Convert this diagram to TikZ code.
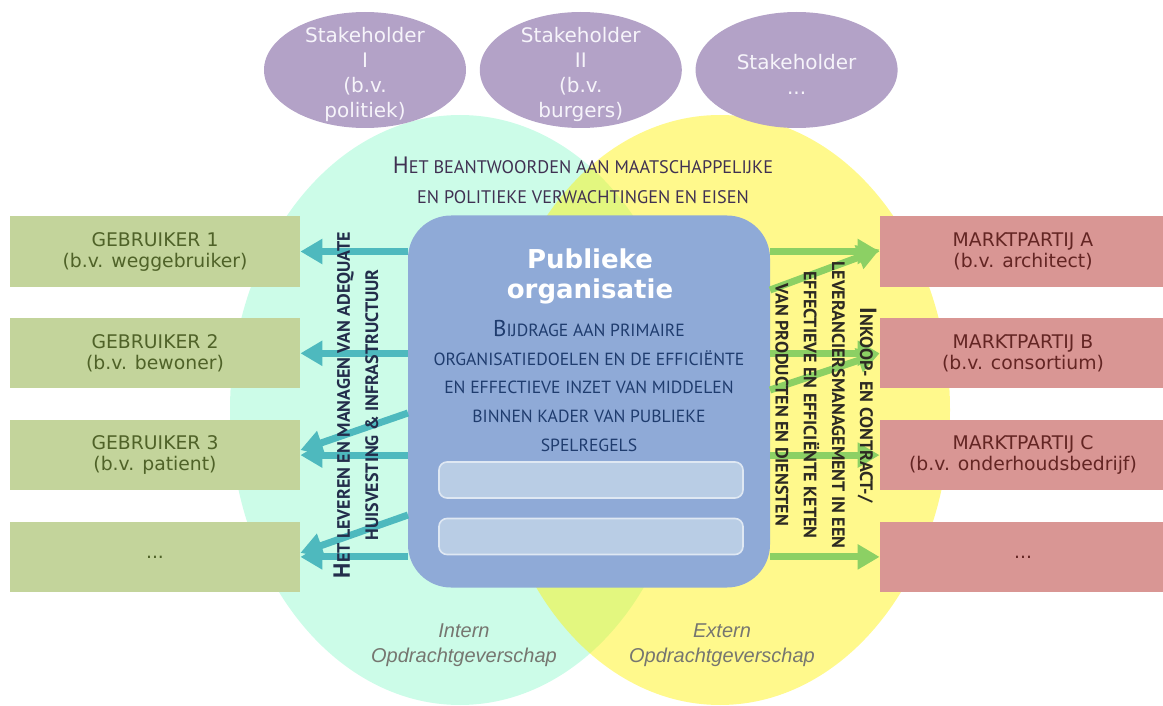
\documentclass[tikz,border=0pt]{standalone}
\usepackage{graphicx}
\usepackage{fontspec}
\setmainfont{DejaVu Sans}
\newfontfamily\capsfont{PT Sans}
\newfontfamily\labelfont{Liberation Sans}
\usetikzlibrary{positioning,arrows.meta,shapes.geometric}

\definecolor{mint}{RGB}{204,252,232}
\definecolor{stakepurple}{RGB}{179,162,199}
\definecolor{stakewhite}{RGB}{246,244,250}
\definecolor{userbox}{RGB}{195,212,155}
\definecolor{usertext}{RGB}{79,98,40}
\definecolor{marketbox}{RGB}{217,150,148}
\definecolor{markettext}{RGB}{99,37,35}
\definecolor{orgblue}{RGB}{143,170,215}
\definecolor{orginner}{RGB}{185,205,229}
\definecolor{orgtext}{RGB}{31,60,110}
\definecolor{toptext}{RGB}{64,49,82}
\definecolor{lefttext}{RGB}{35,45,75}
\definecolor{righttext}{RGB}{45,42,35}
\definecolor{tealarrow}{RGB}{78,185,190}
\definecolor{greenarrow}{RGB}{140,208,100}
\definecolor{labelgrey}{RGB}{118,118,112}

% fake small caps: first letter a bit larger
\newcommand\initcap[1]{\scalebox{1.3}{#1}}

\tikzset{
  usr/.style={rectangle, fill=userbox, minimum width=145pt, minimum height=35pt,
    inner sep=0pt, text=usertext, align=center, font=\fontsize{9.4}{10.5}\selectfont},
  mkt/.style={usr, fill=marketbox, text=markettext, minimum width=143pt},
  stake/.style={ellipse, fill=stakepurple, minimum width=101pt, minimum height=58pt, inner sep=0pt},
  staketext/.style={text=stakewhite, align=center, font=\fontsize{10}{12.5}\selectfont},
  usrarrow/.style={draw=tealarrow, line width=3.5pt, -{Triangle[length=11pt,width=12pt]}},
  mktarrow/.style={usrarrow, draw=greenarrow},
  slot/.style={rectangle, rounded corners=4pt, fill=orginner, draw=white!55!orginner,
    line width=0.8pt, minimum width=152pt, minimum height=18pt},
  capstext/.style={align=center, font=\capsfont\fontsize{8.8}{14.3}\selectfont},
  sidetext/.style={align=center, font=\capsfont\bfseries\fontsize{9}{14.1}\selectfont},
  opdracht/.style={align=center, text=labelgrey, font=\labelfont\itshape\fontsize{10}{12.5}\selectfont}
}

\begin{document}
\begin{tikzpicture}[x=0.5pt,y=-0.5pt]
  \useasboundingbox (0,0) rectangle (1163,706);

  % intern / extern
  \fill[mint] (460,410) ellipse [x radius=115pt, y radius=147.5pt];
  \fill[yellow, opacity=0.45] (720,410) ellipse [x radius=115pt, y radius=147.5pt];

  \node[stake] (s1) at (365,70) {};
  \node[stake, right=6.5pt of s1] (s2) {};
  \node[stake, right=6.5pt of s2] (s3) {};
  \node[staketext] (s1text) at ([yshift=-2pt]s1.center) {Stakeholder\\I\\(b.v.\\politiek)};
  \node[staketext] (s2text) at ([yshift=-2pt]s2.center) {Stakeholder\\II\\(b.v.\\burgers)};
  \node[staketext] (s3text) at ([yshift=-2pt]s3.center) {Stakeholder\\...};

  \node[usr] (g1) at (155,251.5) {GEBRUIKER 1\\(b.v. weggebruiker)};
  \node[usr, below=15.5pt of g1] (g2) {GEBRUIKER 2\\(b.v. bewoner)};
  \node[usr, below=15.5pt of g2] (g3) {GEBRUIKER 3\\(b.v. patient)};
  \node[usr, below=15.5pt of g3] (g4) {...};

  \node[mkt] (m1) at (1023,251.5) {MARKTPARTIJ A\\(b.v. architect)};
  \node[mkt, below=15.5pt of m1] (m2) {MARKTPARTIJ B\\(b.v. consortium)};
  \node[mkt, below=15.5pt of m2] (m3) {MARKTPARTIJ C\\(b.v. onderhoudsbedrijf)};
  \node[mkt, below=15.5pt of m3] (m4) {...};

  \node[rectangle, rounded corners=21.5pt, fill=orgblue, minimum width=181pt,
    minimum height=186pt] (org) at (589,401.5) {};
  \node[slot] (slot1) at (591,480) {};
  \node[slot] (slot2) at (591,536.5) {};

  \node[text=white, align=center, font=\bfseries\fontsize{13}{15}\selectfont] (title) at (590,276) {Publieke\\organisatie};
  \node[capstext, text=orgtext] (bijdrage) at (589,386) {\initcap{B}IJDRAGE AAN PRIMAIRE\\ORGANISATIEDOELEN EN DE EFFICIËNTE\\EN EFFECTIEVE INZET VAN MIDDELEN\\BINNEN KADER VAN PUBLIEKE\\SPELREGELS};

  \node[capstext, text=toptext, font=\capsfont\fontsize{9.1}{15}\selectfont] (eisen) at (583,180)
    {\initcap{H}ET BEANTWOORDEN AAN MAATSCHAPPELIJKE\\EN POLITIEKE VERWACHTINGEN EN EISEN};

  \draw[usrarrow] (org.west |- g1.east) -- (g1.east);
  \draw[usrarrow] (org.west |- g2.east) -- (g2.east);
  \draw[usrarrow] (org.west |- g3.east) -- (g3.east);
  \draw[usrarrow] (org.west |- g4.east) -- (g4.east);
  \coordinate (ld3) at (408,413);
  \coordinate (ld4) at (408,515);
  \draw[usrarrow] (ld3) -- ([yshift=2.5pt]g3.east);
  \draw[usrarrow] (ld4) -- ([yshift=2pt]g4.east);

  \draw[mktarrow] (org.east |- m1.west) -- (m1.west);
  \draw[mktarrow] (org.east |- m2.west) -- (m2.west);
  \draw[mktarrow] (org.east |- m3.west) -- (m3.west);
  \draw[mktarrow] (org.east |- m4.west) -- (m4.west);
  \coordinate (rd1) at (770,290);
  \coordinate (rd2) at (770,390);
  \draw[mktarrow] (rd1) -- ([yshift=1pt]m1.west);
  \draw[mktarrow] (rd2) -- ([yshift=0pt]m2.west);

  \node[sidetext, text=lefttext, rotate=90] (leveren) at (356,405)
    {\initcap{H}ET LEVEREN EN MANAGEN VAN ADEQUATE\\HUISVESTING \& INFRASTRUCTUUR};
  \node[sidetext, text=righttext, rotate=-90] (inkoop) at (826,405)
    {\initcap{I}NKOOP- EN CONTRACT-/\\LEVERANCIERSMANAGEMENT IN EEN\\EFFECTIEVE EN EFFICIËNTE KETEN\\VAN PRODUCTEN EN DIENSTEN};

  \node[opdracht] (intern) at (464,645) {Intern\\Opdrachtgeverschap};
  \node[opdracht] (extern) at (722,645) {Extern\\Opdrachtgeverschap};
\end{tikzpicture}
\end{document}
